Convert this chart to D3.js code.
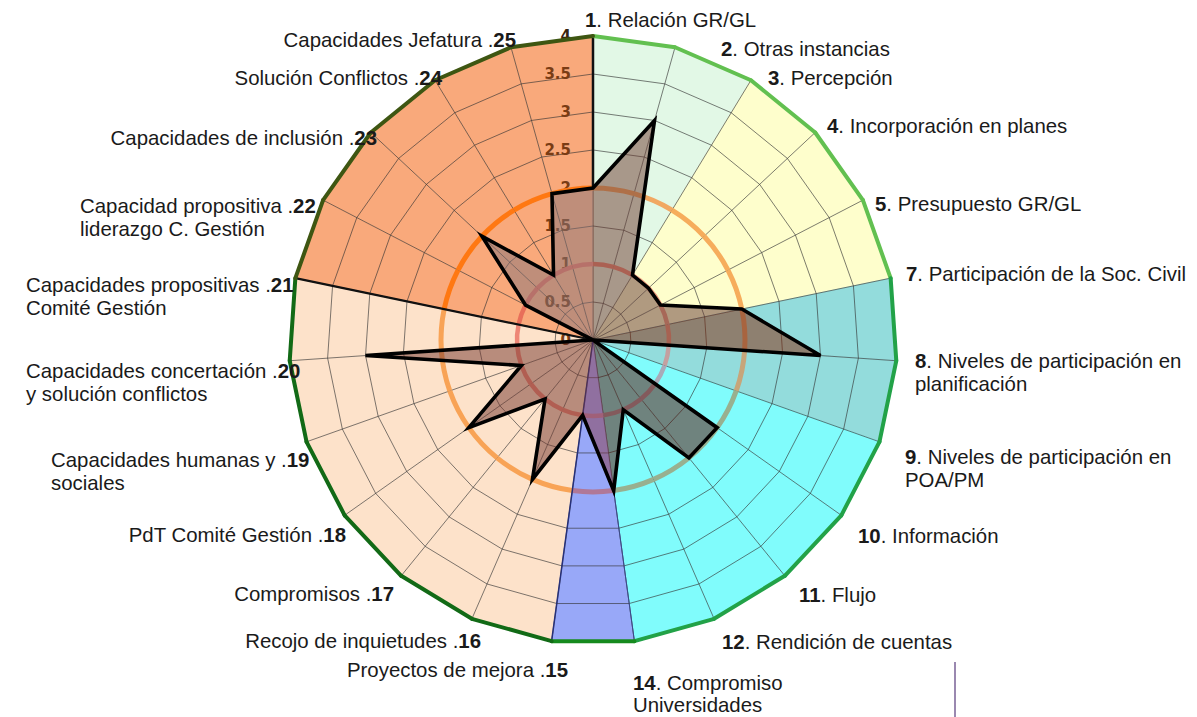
<!DOCTYPE html>
<html><head><meta charset="utf-8">
<script src="https://cdn.jsdelivr.net/npm/d3@7"></script>
<style>body{margin:0;background:#fff}svg{display:block}</style>
</head><body><svg id="c" width="1197" height="717"></svg>
<script>
// ---------- data ----------
const axisNumbers = [1,2,3,4,5,7,8,9,10,11,12,14,15,16,17,18,19,20,21,22,23,24,25];
const axisNames = [
  "Relación GR/GL","Otras instancias","Percepción","Incorporación en planes","Presupuesto GR/GL",
  "Participación de la Soc. Civil","Niveles de participación en|planificación","Niveles de participación en|POA/PM",
  "Información","Flujo","Rendición de cuentas","Compromiso|Universidades",
  "Proyectos de mejora","Recojo de inquietudes","Compromisos","PdT Comité Gestión",
  "Capacidades humanas y|sociales","Capacidades concertación|y solución conflictos",
  "Capacidades propositivas|Comité Gestión","Capacidad propositiva|liderazgo C. Gestión",
  "Capacidades de inclusión","Solución Conflictos","Capacidades Jefatura"
];
const scores = [2,3,1,1,1,2,3,0,2,2,1,2,1,2,1,2,1,3,0,1,2,1,2];
const tickValues = [0,0.5,1,1.5,2,2.5,3,3.5,4];
const tickLabels = ["0","0.5","1","1.5","2","2.5","3","3.5","4"];
const sectorGroups = ["mint","mint","yellow","yellow","yellow","teal","teal","cyan","cyan","cyan","cyan","blue",
  "peach","peach","peach","peach","peach","peach","salmon","salmon","salmon","salmon","salmon"];
const highlightRings = [1,2];
const maxValue = 4;

// ---------- styles / layout ----------
const fills = {mint:"#e2f8e6",yellow:"#fefecc",teal:"#93dcdc",cyan:"#80fcfc",blue:"#98a8f8",peach:"#fde2ca",salmon:"#f9a97b"};
const borders = {mint:"#62c050",yellow:"#62c050",teal:"#22a248",cyan:"#22a248",blue:"#168a1e",peach:"#126a16",salmon:"#3e5612"};
const ring2Col = {mint:"#f1a862",yellow:"#f6ad5c",teal:"#c7a57a",cyan:"#98b090",blue:"#b07898",peach:"#f8a356",salmon:"#ff7812"};
const ring1Col = {mint:"#e88a78",yellow:"#ec9a7c",teal:"#c4a0a0",cyan:"#a8aab8",blue:"#b888a8",peach:"#ee8676",salmon:"#e86f5a"};
// translucent tint of the score area over each background colour
const tint = {mint:"#6e382e",yellow:"#623634",teal:"#892404",cyan:"#5e0a00",blue:"#883848",peach:"#73362e",salmon:"#857379"};
// label placement: [x, baselineY, anchor]
const labelPos = [
  [585,27,"start"],[721,56,"start"],[768,85,"start"],[827,133,"start"],[875,211,"start"],
  [906,281,"start"],[915,368,"start"],[905,464,"start"],[858,543,"start"],[799,602,"start"],
  [722,649,"start"],[633,690,"start"],
  [568,677,"end"],[481,648,"end"],[394,601,"end"],[346,542,"end"],
  [51,467,"start"],[26,378,"start"],[26,292,"start"],[80,213,"start"],
  [377,145,"end"],[442,85,"end"],[516,47,"end"]
];

const svg = d3.select("#c");
svg.append("rect").attr("width",1197).attr("height",717).attr("fill","#fff");
const cx = 593, cy = 340, R = 304;
const n = axisNumbers.length;
const ang = d3.scaleLinear().domain([0,n]).range([0,2*Math.PI]);
const rad = d3.scaleLinear().domain([0,maxValue]).range([0,R]);
const pt = (i,v)=>[cx+rad(v)*Math.sin(ang(i)), cy-rad(v)*Math.cos(ang(i))];
const g = svg.append("g");
const idx = d3.range(n);

// background sectors
g.selectAll("path.sector").data(idx).join("path")
  .attr("d",i=>{const a=pt(i,maxValue),b=pt(i+1,maxValue);return `M${cx},${cy}L${a}L${b}Z`;})
  .attr("fill",i=>fills[sectorGroups[i]])
  .attr("stroke",i=>fills[sectorGroups[i]]).attr("stroke-width",0.6);

// grid rings (polygons) and spokes
const ringLine = d3.lineRadial().angle((d,i)=>ang(i)).radius(d=>rad(d)).curve(d3.curveLinearClosed);
const gridG = g.append("g").attr("transform",`translate(${cx},${cy})`);
tickValues.filter(t=>t>0 && t<maxValue).forEach(t=>{
  gridG.append("path").attr("d",ringLine(idx.map(()=>t)))
    .attr("fill","none").attr("stroke","#333").attr("stroke-width",0.8).attr("stroke-opacity",0.8);
});
g.selectAll("line.spoke").data(idx).join("line")
  .attr("x1",cx).attr("y1",cy)
  .attr("x2",i=>pt(i,maxValue)[0]).attr("y2",i=>pt(i,maxValue)[1])
  .attr("stroke","#333").attr("stroke-width",0.8).attr("stroke-opacity",0.8);

// tick labels along axis 1
g.selectAll("text.tick").data(tickValues).join("text")
  .attr("x",cx-22).attr("y",d=>cy-rad(d))
  .attr("text-anchor","end").attr("dominant-baseline","central")
  .attr("font-family","DejaVu Sans, sans-serif").attr("font-weight","bold").attr("font-size",15)
  .attr("fill",d=>d===maxValue?"#3a2410":"#7a3c14").text((d,i)=>tickLabels[i]);

// highlighted rings at 1 and 2
highlightRings.forEach(v=>{
  const w = v===2?5:4.5;
  const cols = v===2?ring2Col:ring1Col;
  const arc = d3.arc().innerRadius(rad(v)-w/2).outerRadius(rad(v)+w/2)
    .startAngle(i=>ang(i)).endAngle(i=>ang(i+1));
  g.append("g").attr("transform",`translate(${cx},${cy})`)
    .selectAll("path").data(idx).join("path")
    .attr("d",i=>arc(i)).attr("fill",i=>cols[sectorGroups[i]]);
});

// sector boundary lines
const bl = (i,v0,v1,col,w)=>{const a=pt(i,v0),b=pt(i,v1);
  g.append("line").attr("x1",a[0]).attr("y1",a[1]).attr("x2",b[0]).attr("y2",b[1])
   .attr("stroke",col).attr("stroke-width",w);};
bl(0,scores[0],maxValue,"#111",2.5);
bl(18,0,maxValue,"#111",2.2);
bl(12,0,maxValue,"#26307a",1.5);
bl(11,scores[11],maxValue,"#3a4a8a",1);

// outer border
g.selectAll("line.border").data(idx).join("line")
  .attr("x1",i=>pt(i,maxValue)[0]).attr("y1",i=>pt(i,maxValue)[1])
  .attr("x2",i=>pt(i+1,maxValue)[0]).attr("y2",i=>pt(i+1,maxValue)[1])
  .attr("stroke",i=>borders[sectorGroups[i]]).attr("stroke-width",4).attr("stroke-linecap","round");

// score area: tinted per sector (the polygon is star-shaped around the centre)
g.selectAll("path.area").data(idx).join("path")
  .attr("d",i=>{const a=pt(i,scores[i]),b=pt((i+1)%n,scores[(i+1)%n]);return `M${cx},${cy}L${a}L${b}Z`;})
  .attr("fill",i=>tint[sectorGroups[i]]).attr("fill-opacity",0.5);
const dataLine = d3.lineRadial().angle((d,i)=>ang(i)).radius(d=>rad(d)).curve(d3.curveLinearClosed);
g.append("path").attr("transform",`translate(${cx},${cy})`)
  .attr("d",dataLine(scores))
  .attr("fill","none")
  .attr("stroke","#000").attr("stroke-width",3.6).attr("stroke-linejoin","miter");

// axis labels
const lab = g.append("g").attr("font-family","Liberation Sans, Arial, sans-serif").attr("font-size",20.4).attr("fill","#1a1a1a");
idx.forEach(i=>{
  const [x,y,anchor] = labelPos[i];
  const lines = axisNames[i].split("|");
  const right = i<12;
  const t = lab.append("text").attr("x",x).attr("y",y).attr("text-anchor",anchor);
  lines.forEach((ln,k)=>{
    if(k===0){
      if(right){
        t.append("tspan").attr("font-weight","bold").text(axisNumbers[i]);
        t.append("tspan").text(". "+ln);
      } else {
        t.append("tspan").text(ln+" .");
        t.append("tspan").attr("font-weight","bold").text(axisNumbers[i]);
      }
    } else {
      t.append("tspan").attr("x",x).attr("dy",i===11?22:23).text(ln);
    }
  });
});

// small decorative mark at lower right
svg.append("line").attr("x1",955).attr("y1",662).attr("x2",955).attr("y2",717)
  .attr("stroke","#9a88b0").attr("stroke-width",2);
</script></body></html>
